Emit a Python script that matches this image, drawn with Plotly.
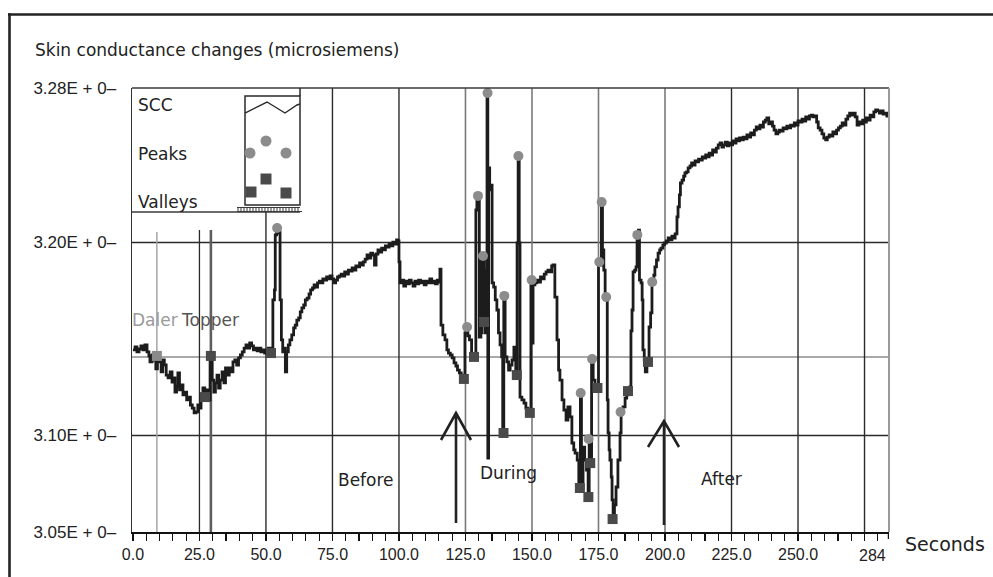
import plotly.graph_objects as go

# ---------------- data ----------------
time_s = [
    0, 0.8, 1.5, 2.3, 3.0, 3.8, 4.5, 5.3, 6.0, 6.4,
    7.2, 8.0, 8.6, 9.2, 10.0, 10.6, 11.2, 11.8, 12.5, 13.2,
    14.0, 14.7, 15.4, 15.8, 16.4, 16.9, 17.5, 18.2, 18.8, 19.5,
    20.2, 20.9, 21.6, 22.3, 23.0, 23.7, 24.4, 25.0, 25.6, 26.3,
    27.0, 27.7, 28.4, 29.0, 29.4, 29.8, 30.4, 31.0, 31.6, 32.2,
    32.8, 33.5, 34.2, 34.8, 35.5, 36.2, 36.9, 37.6, 38.3, 39.0,
    39.7, 40.4, 41.1, 41.8, 42.5, 43.2, 43.9, 44.6, 45.3, 46.0,
    46.7, 47.4, 48.1, 48.8, 49.5, 50.2, 50.9, 51.6, 52.3, 52.6,
    53.2, 53.5, 54.0, 54.5, 55.0, 55.3, 55.8, 56.3, 56.8, 57.3,
    57.8, 58.4, 59.0, 59.7, 60.4, 61.0, 61.6, 62.3, 62.9, 63.5,
    64.2, 64.8, 65.5, 66.2, 66.8, 67.5, 68.1, 68.8, 69.4, 70.1,
    70.8, 71.4, 72.1, 72.8, 73.4, 74.1, 74.8, 75.5, 76.2, 76.9,
    77.6, 78.3, 79.0, 79.6, 80.3, 81.0, 81.7, 82.4, 83.1, 83.8,
    84.5, 85.2, 85.9, 86.6, 87.3, 88.0, 88.7, 89.4, 90.1, 90.8,
    91.4, 92.1, 92.8, 93.5, 94.2, 94.9, 95.6, 96.3, 97.0, 97.7,
    98.4, 99.1, 99.6, 100.0, 100.4, 101.1, 101.8, 102.5, 103.2, 103.9,
    104.6, 105.3, 106.0, 106.7, 107.4, 108.1, 108.8, 109.5, 110.2, 110.9,
    111.6, 112.3, 113.0, 113.7, 114.4, 115.0, 115.4, 115.8, 116.5, 117.3,
    118.0, 118.6, 119.3, 120.0, 120.7, 121.4, 122.0, 122.7, 123.4, 124.0,
    124.4, 124.8, 125.3, 125.9, 126.5, 127.3, 128.2, 128.9, 129.3, 129.9,
    130.2, 130.8, 131.2, 131.6, 132.0, 132.4, 132.8, 133.1, 133.4, 133.7,
    134.1, 134.6, 135.0, 135.6, 136.2, 136.8, 137.4, 138.0, 138.6, 139.0,
    139.4, 139.9, 140.6, 141.2, 141.8, 142.5, 143.2, 143.9, 144.4, 144.8,
    145.2, 145.5, 146.2, 147.0, 147.7, 148.4, 149.0, 149.6, 150.0, 150.4,
    151.1, 151.8, 152.5, 153.2, 153.9, 154.6, 155.3, 156.0, 156.7, 157.4,
    157.9, 158.6, 159.4, 160.0, 160.5, 161.3, 162.0, 162.8, 163.5, 164.3,
    165.0, 165.7, 166.2, 167.0, 167.6, 168.2, 168.6, 169.2, 169.8, 170.5,
    171.1, 171.5, 171.8, 172.4, 173.0, 173.7, 174.4, 175.0, 175.6, 176.1,
    176.5, 177.0, 177.5, 177.8, 178.3, 178.6, 179.0, 179.3, 179.8, 180.1,
    180.5, 181.0, 181.6, 182.3, 183.1, 183.5, 184.2, 185.0, 185.6, 186.1,
    186.8, 187.2, 187.6, 188.0, 188.6, 189.1, 189.5, 190.0, 190.4, 191.0,
    191.4, 191.7, 192.2, 192.6, 193.2, 193.6, 194.0, 194.6, 195.1, 195.8,
    196.2, 196.8, 197.4, 198.0, 198.5, 199.2, 199.8, 200.5, 201.2, 201.9,
    202.6, 203.3, 203.8, 204.5, 204.9, 205.4, 205.8, 206.4, 207.0, 207.5,
    208.1, 208.7, 209.4, 210.0, 210.6, 211.3, 212.0, 212.6, 213.3, 214.0,
    214.6, 215.3, 216.0, 216.6, 217.3, 217.9, 218.6, 219.3, 220.0, 220.7,
    221.4, 222.0, 222.7, 223.4, 224.0, 224.7, 225.4, 226.0, 226.7, 227.4,
    228.0, 228.7, 229.4, 230.1, 230.8, 231.5, 232.2, 232.9, 233.6, 234.3,
    235.0, 235.7, 236.4, 237.0, 237.7, 238.3, 239.0, 239.7, 240.4, 241.0,
    241.7, 242.4, 243.0, 243.7, 244.4, 245.1, 245.8, 246.5, 247.2, 247.9,
    248.6, 249.3, 250.0, 250.8, 251.5, 252.2, 252.9, 253.6, 254.3, 255.0,
    255.6, 256.3, 257.0, 257.6, 258.3, 259.0, 259.7, 260.4, 261.0, 261.7,
    262.4, 263.1, 263.8, 264.5, 265.2, 265.9, 266.6, 267.3, 268.0, 268.7,
    269.4, 270.1, 270.8, 271.5, 272.2, 272.9, 273.6, 274.3, 275.0, 275.7,
    276.4, 277.1, 277.8, 278.5, 279.2, 279.9, 280.6, 281.3, 282.0, 282.7,
    283.4, 284.0,
]

scc_us = [
    3.1443, 3.1459, 3.1433, 3.1448, 3.1464, 3.1443, 3.1469, 3.1433, 3.1412, 3.1381,
    3.1417, 3.1391, 3.1345, 3.1407, 3.1381, 3.1329, 3.1391, 3.1365, 3.1313, 3.1298,
    3.1329, 3.1277, 3.1298, 3.1225, 3.1256, 3.1324, 3.1236, 3.1262, 3.1210, 3.1225,
    3.1184, 3.1199, 3.1158, 3.1142, 3.1117, 3.1122, 3.1158, 3.1142, 3.1210, 3.1246,
    3.1194, 3.1236, 3.1184, 3.1391, 3.1412, 3.1287, 3.1225, 3.1272, 3.1313, 3.1246,
    3.1287, 3.1329, 3.1272, 3.1350, 3.1313, 3.1350, 3.1329, 3.1381, 3.1391, 3.1365,
    3.1402, 3.1417, 3.1433, 3.1453, 3.1469, 3.1453, 3.1479, 3.1464, 3.1443, 3.1453,
    3.1438, 3.1453, 3.1433, 3.1443, 3.1427, 3.1443, 3.1453, 3.1433, 3.1443, 3.1702,
    3.1754, 3.2039, 3.2049, 3.2075, 3.2054, 3.1702, 3.1495, 3.1433, 3.1453, 3.1329,
    3.1433, 3.1469, 3.1495, 3.1521, 3.1557, 3.1572, 3.1598, 3.1609, 3.1640, 3.1661,
    3.1676, 3.1702, 3.1712, 3.1733, 3.1754, 3.1764, 3.1780, 3.1769, 3.1790, 3.1800,
    3.1790, 3.1811, 3.1805, 3.1821, 3.1811, 3.1826, 3.1811, 3.1790, 3.1805, 3.1821,
    3.1826, 3.1836, 3.1826, 3.1847, 3.1836, 3.1857, 3.1852, 3.1868, 3.1857, 3.1878,
    3.1873, 3.1894, 3.1883, 3.1899, 3.1914, 3.1935, 3.1919, 3.1945, 3.1935, 3.1883,
    3.1940, 3.1961, 3.1950, 3.1971, 3.1961, 3.1982, 3.1976, 3.1992, 3.1982, 3.2002,
    3.1992, 3.2013, 3.2008, 3.1899, 3.1790, 3.1805, 3.1774, 3.1800, 3.1785, 3.1805,
    3.1790, 3.1774, 3.1800, 3.1785, 3.1805, 3.1790, 3.1800, 3.1780, 3.1800, 3.1790,
    3.1811, 3.1790, 3.1800, 3.1785, 3.1805, 3.1795, 3.1862, 3.1572, 3.1521, 3.1495,
    3.1443, 3.1427, 3.1417, 3.1402, 3.1376, 3.1360, 3.1339, 3.1324, 3.1313, 3.1298,
    3.1293, 3.1531, 3.1562, 3.1516, 3.1495, 3.1407, 3.1407, 3.2168, 3.2220, 3.2241,
    3.1510, 3.1531, 3.1909, 3.1930, 3.1588, 3.1531, 3.1857, 3.2805, 3.0883, 3.2386,
    3.2272, 3.2297, 3.1790, 3.1769, 3.1702, 3.1650, 3.1531, 3.1469, 3.1407, 3.1013,
    3.1723, 3.1407, 3.1381, 3.1339, 3.1365, 3.1391, 3.1458, 3.1313, 3.1997, 3.2448,
    3.1997, 3.1199, 3.1184, 3.1168, 3.1142, 3.1132, 3.1117, 3.1805, 3.1479, 3.1780,
    3.1790, 3.1805, 3.1795, 3.1821, 3.1811, 3.1836, 3.1847, 3.1857, 3.1847, 3.1878,
    3.1883, 3.1717, 3.1495, 3.1339, 3.1287, 3.1184, 3.1132, 3.1080, 3.1148, 3.1096,
    3.0961, 3.0925, 3.0909, 3.0873, 3.0728, 3.1225, 3.0728, 3.0940, 3.0873, 3.0821,
    3.0681, 3.0982, 3.0857, 3.1396, 3.1287, 3.1246, 3.1246, 3.1899, 3.1883, 3.2209,
    3.1961, 3.1857, 3.1702, 3.1717, 3.1184, 3.1013, 3.0925, 3.0873, 3.0785, 3.0666,
    3.0567, 3.0640, 3.0733, 3.0873, 3.1013, 3.1122, 3.1148, 3.1194, 3.1210, 3.1230,
    3.1251, 3.1542, 3.1650, 3.1847, 3.1857, 3.1873, 3.2039, 3.2064, 3.1805, 3.1790,
    3.1702, 3.1443, 3.1391, 3.1329, 3.1381, 3.1381, 3.1562, 3.1635, 3.1795, 3.1831,
    3.1873, 3.1909, 3.1945, 3.1961, 3.1971, 3.1987, 3.1997, 3.2008, 3.2023, 3.2013,
    3.2033, 3.2023, 3.2044, 3.2132, 3.2184, 3.2246, 3.2308, 3.2323, 3.2344, 3.2360,
    3.2365, 3.2386, 3.2396, 3.2412, 3.2401, 3.2422, 3.2417, 3.2432, 3.2427, 3.2443,
    3.2437, 3.2453, 3.2443, 3.2463, 3.2453, 3.2479, 3.2468, 3.2489, 3.2505, 3.2515,
    3.2494, 3.2505, 3.2520, 3.2500, 3.2515, 3.2505, 3.2526, 3.2515, 3.2536, 3.2526,
    3.2541, 3.2531, 3.2546, 3.2536, 3.2557, 3.2546, 3.2567, 3.2557, 3.2582, 3.2598,
    3.2588, 3.2608, 3.2598, 3.2624, 3.2634, 3.2645, 3.2614, 3.2624, 3.2603, 3.2582,
    3.2562, 3.2572, 3.2582, 3.2577, 3.2593, 3.2588, 3.2603, 3.2593, 3.2608, 3.2603,
    3.2619, 3.2608, 3.2629, 3.2624, 3.2639, 3.2629, 3.2650, 3.2639, 3.2655, 3.2660,
    3.2650, 3.2655, 3.2624, 3.2593, 3.2582, 3.2562, 3.2541, 3.2531, 3.2546, 3.2557,
    3.2551, 3.2572, 3.2562, 3.2582, 3.2593, 3.2603, 3.2619, 3.2608, 3.2639, 3.2655,
    3.2670, 3.2660, 3.2670, 3.2650, 3.2608, 3.2624, 3.2614, 3.2634, 3.2624, 3.2645,
    3.2634, 3.2660, 3.2650, 3.2676, 3.2686, 3.2681, 3.2670, 3.2681, 3.2665, 3.2670,
    3.2655, 3.2650,
]
assert len(time_s) == len(scc_us)

peak_t = [54.2, 125.6, 129.7, 131.6, 133.3, 139.6, 144.9, 149.9, 168.3, 171.3,
          172.6, 175.3, 176.2, 177.9, 183.3, 189.6, 195.2]
peak_v = [3.2075, 3.1562, 3.2241, 3.1930, 3.2774, 3.1723, 3.2448, 3.1805, 3.1220, 3.0982,
          3.1396, 3.1899, 3.2209, 3.1717, 3.1122, 3.2039, 3.1795]

valley_t = [27.1, 29.3, 51.9, 124.4, 128.2, 132.0, 139.3, 144.3, 149.2, 168.0,
            171.2, 171.9, 174.6, 180.3, 186.1, 193.6]
valley_v = [3.1199, 3.1412, 3.1427, 3.1293, 3.1407, 3.1588, 3.1013, 3.1313, 3.1117, 3.0728,
            3.0681, 3.0857, 3.1246, 3.0567, 3.1230, 3.1381]

daler_mark_t = [9.0]
daler_mark_v = [3.1412]

event_names = ["Daler", "Topper"]
event_t = [9.0, 29.3]

phase_names = ["Before", "During", "After"]
phase_t = [87.6, 141.0, 221.1]
phase_v = [3.0769, 3.0806, 3.0775]

x_tickvals = [0, 25, 50, 75, 100, 125, 150, 175, 200, 225, 250]
x_ticktext = ["0.0", "25.0", "50.0", "75.0", "100.0", "125.0", "150.0",
              "175.0", "200.0", "225.0", "250.0"]
x_end = 284
y_tickvals = [3.05, 3.10, 3.20, 3.28]
y_ticktext = ["3.05E + 0\u2013", "3.10E + 0\u2013", "3.20E + 0\u2013", "3.28E + 0\u2013"]

grid_dark_t = [50, 75, 100, 225, 250, 275]
grid_gray_t = [125, 150, 175, 200]
grid_dark_v = [3.20, 3.10]
baseline_v = 3.1407

# ---------------- layout helpers (pixel -> paper) ----------------
PL, PR, PT, PB = 132, 889, 88, 532


def hx(x):
    return (x - PL) / (PR - PL)


def vy(y):
    return (PB - y) / (PB - PT)


DARK = "#2a2a2a"
GRAY = "#7a7a7a"
TXT = "DejaVu Sans"
NUM = "Liberation Sans"

fig = go.Figure()

fig.add_trace(go.Scatter(
    x=time_s, y=scc_us, mode="lines",
    line=dict(color="#1c1c1c", width=2.8, shape="hv"),
    hoverinfo="skip", showlegend=False))

fig.add_trace(go.Scatter(
    x=valley_t, y=valley_v, mode="markers",
    marker=dict(symbol="square", size=10, color="#4a4a4a"),
    hoverinfo="skip", showlegend=False))

fig.add_trace(go.Scatter(
    x=daler_mark_t, y=daler_mark_v, mode="markers",
    marker=dict(symbol="square", size=10, color="#8a8a8a"),
    hoverinfo="skip", showlegend=False))

fig.add_trace(go.Scatter(
    x=peak_t, y=peak_v, mode="markers",
    marker=dict(symbol="circle", size=10, color="#8c8c8c"),
    hoverinfo="skip", showlegend=False))

shapes = []

# vertical grid lines
for t in grid_dark_t:
    top = 3.2158 if t == 50 else 3.28
    shapes.append(dict(type="line", xref="x", yref="y", x0=t, x1=t, y0=3.05, y1=top,
                       line=dict(color=DARK, width=1.4), layer="below"))
for t in grid_gray_t:
    shapes.append(dict(type="line", xref="x", yref="y", x0=t, x1=t, y0=3.05, y1=3.28,
                       line=dict(color=GRAY, width=1.6), layer="below"))
# 25 s gridline (starts below legend)
shapes.append(dict(type="line", xref="x", yref="y", x0=25, x1=25, y0=3.05, y1=3.2064,
                   line=dict(color=DARK, width=1.3), layer="below"))
# event lines
shapes.append(dict(type="line", xref="x", yref="y", x0=event_t[0], x1=event_t[0], y0=3.05, y1=3.2054,
                   line=dict(color="#a0a0a0", width=1.4), layer="below"))
shapes.append(dict(type="line", xref="x", yref="y", x0=event_t[1], x1=event_t[1], y0=3.05, y1=3.2064,
                   line=dict(color="#5e5e5e", width=2.6), layer="below"))

# horizontal grid lines
for v in grid_dark_v:
    shapes.append(dict(type="line", xref="paper", yref="y", x0=0, x1=1, y0=v, y1=v,
                       line=dict(color=DARK, width=1.4), layer="below"))
shapes.append(dict(type="line", xref="paper", yref="y", x0=0, x1=1, y0=baseline_v, y1=baseline_v,
                   line=dict(color="#8c8c8c", width=1.5), layer="below"))

# white gaps behind phase labels
for (x0, x1, y0, y1) in [(329, 401, 467, 493), (478, 540, 463, 483), (695, 748, 461, 491)]:
    shapes.append(dict(type="rect", xref="paper", yref="paper", x0=hx(x0), x1=hx(x1),
                       y0=vy(y1), y1=vy(y0), fillcolor="white", line=dict(width=0), layer="below"))

# plot frame: top and right
shapes.append(dict(type="line", xref="paper", yref="paper", x0=0, x1=1, y0=1, y1=1,
                   line=dict(color="#3a3a3a", width=1.6)))
shapes.append(dict(type="line", xref="paper", yref="paper", x0=1, x1=1, y0=0, y1=1,
                   line=dict(color="#9a9a9a", width=2)))

# legend box
shapes.append(dict(type="line", xref="paper", yref="paper", x0=0, x1=hx(300), y0=vy(212), y1=vy(212),
                   line=dict(color="#3a3a3a", width=1.5)))
shapes.append(dict(type="rect", xref="paper", yref="paper", x0=hx(245), x1=hx(300),
                   y0=vy(205), y1=vy(96), line=dict(color="#2a2a2a", width=1.5),
                   fillcolor="white", layer="below"))
shapes.append(dict(type="line", xref="paper", yref="paper", x0=hx(300), x1=hx(300), y0=vy(96), y1=1,
                   line=dict(color="#2a2a2a", width=1.5)))
zig = [(245, 113), (267, 102), (285, 113), (297, 105), (300, 104)]
path = "M " + " L ".join(f"{hx(a):.5f},{vy(b):.5f}" for a, b in zig)
shapes.append(dict(type="path", xref="paper", yref="paper", path=path,
                   line=dict(color="#2a2a2a", width=1.4)))
for (cx, cy) in [(250, 153), (266, 141), (286, 153)]:
    shapes.append(dict(type="circle", xref="paper", yref="paper",
                       x0=hx(cx - 5.5), x1=hx(cx + 5.5), y0=vy(cy + 5.5), y1=vy(cy - 5.5),
                       fillcolor="#8c8c8c", line=dict(width=0)))
for (cx, cy) in [(251, 192), (266, 179), (286, 193)]:
    shapes.append(dict(type="rect", xref="paper", yref="paper",
                       x0=hx(cx - 5.5), x1=hx(cx + 5.5), y0=vy(cy + 5.5), y1=vy(cy - 5.5),
                       fillcolor="#4a4a4a", line=dict(width=0)))
# small ruler under the legend key box
rp = f"M {hx(237):.5f},{vy(211.5):.5f} L {hx(302):.5f},{vy(211.5):.5f} "
rp += f"M {hx(237):.5f},{vy(207.5):.5f} L {hx(300):.5f},{vy(207.5):.5f} "
xx = 238.0
while xx < 300:
    rp += f"M {hx(xx):.5f},{vy(207.5):.5f} L {hx(xx):.5f},{vy(211.5):.5f} "
    xx += 3.0
shapes.append(dict(type="path", xref="paper", yref="paper", path=rp,
                   line=dict(color="#3a3a3a", width=1)))

# arrows (open chevron heads)
for (ax, ytop, ybot, wl, wr, wy) in [(456, 413, 523, 441, 471, 440),
                                      (664, 421, 525, 648, 679, 447)]:
    p = (f"M {hx(ax):.5f},{vy(ybot):.5f} L {hx(ax):.5f},{vy(ytop):.5f} "
         f"M {hx(wl):.5f},{vy(wy):.5f} L {hx(ax):.5f},{vy(ytop):.5f} L {hx(wr):.5f},{vy(wy):.5f}")
    shapes.append(dict(type="path", xref="paper", yref="paper", path=p,
                       line=dict(color="#222222", width=2.6)))

# end tick at 284
shapes.append(dict(type="line", xref="x", yref="paper", x0=x_end, x1=x_end, y0=0, y1=-7 / 444,
                   line=dict(color="#111111", width=1.4)))

# outer figure border (top and left)
shapes.append(dict(type="line", xref="paper", yref="paper", x0=hx(8), x1=hx(1000),
                   y0=vy(14.5), y1=vy(14.5), line=dict(color="#222222", width=2.6)))
shapes.append(dict(type="line", xref="paper", yref="paper", x0=hx(9.5), x1=hx(9.5),
                   y0=vy(13.2), y1=vy(600), line=dict(color="#222222", width=2.6)))

annotations = [
    dict(text="Skin conductance changes (microsiemens)", xref="paper", yref="paper",
         x=hx(33), y=vy(50), xanchor="left", yanchor="middle", showarrow=False,
         font=dict(family=TXT, size=17, color="#222222")),
    dict(text="Seconds", xref="paper", yref="paper", x=hx(903), y=vy(544),
         xanchor="left", yanchor="middle", showarrow=False,
         font=dict(family=TXT, size=19, color="#222222")),
    dict(text=str(x_end), xref="x", yref="paper", x=x_end, y=vy(555),
         xanchor="right", yanchor="middle", showarrow=False,
         font=dict(family=NUM, size=16, color="#222222")),
    dict(text="SCC", xref="paper", yref="paper", x=hx(136), y=vy(105),
         xanchor="left", yanchor="middle", showarrow=False,
         font=dict(family=TXT, size=17, color="#222222")),
    dict(text="Peaks", xref="paper", yref="paper", x=hx(136), y=vy(154),
         xanchor="left", yanchor="middle", showarrow=False,
         font=dict(family=TXT, size=17, color="#222222")),
    dict(text="Valleys", xref="paper", yref="paper", x=hx(136), y=vy(202),
         xanchor="left", yanchor="middle", showarrow=False,
         font=dict(family=TXT, size=17, color="#222222")),
    dict(text=event_names[0], xref="paper", yref="paper", x=hx(130), y=vy(320),
         xanchor="left", yanchor="middle", showarrow=False,
         font=dict(family=TXT, size=17, color="#9a9a9a")),
    dict(text=event_names[1], xref="paper", yref="paper", x=hx(179), y=vy(320),
         xanchor="left", yanchor="middle", showarrow=False,
         font=dict(family=TXT, size=17, color="#555555")),
]
for name, t, v in zip(phase_names, phase_t, phase_v):
    annotations.append(dict(text=name, xref="x", yref="y", x=t, y=v,
                            xanchor="center", yanchor="middle", showarrow=False,
                            font=dict(family=TXT, size=17, color="#222222")))

fig.update_layout(
    width=993, height=577,
    margin=dict(l=PL, r=993 - PR, t=PT, b=577 - PB, pad=0),
    paper_bgcolor="white", plot_bgcolor="white",
    showlegend=False,
    shapes=shapes,
    annotations=annotations,
    xaxis=dict(
        range=[-0.35, 284.2], showgrid=False, zeroline=False,
        tickmode="array", tickvals=x_tickvals, ticktext=x_ticktext,
        ticks="outside", ticklen=7, tickwidth=1.4, tickcolor="#111111",
        showline=True, linecolor="#111111", linewidth=2,
        tickfont=dict(family=NUM, size=16, color="#222222"),
        minor=dict(dtick=5, tick0=0, ticks="outside", ticklen=7, tickwidth=1.2,
                   tickcolor="#111111", showgrid=False),
    ),
    yaxis=dict(
        range=[3.05, 3.28], showgrid=False, zeroline=False,
        tickmode="array", tickvals=y_tickvals, ticktext=y_ticktext,
        ticks="outside", ticklen=11, tickcolor="rgba(0,0,0,0)",
        showline=True, linecolor="#333333", linewidth=1.5,
        tickfont=dict(family=NUM, size=17, color="#222222"),
    ),
)

fig.write_html(
    "out.html",
    config={"displayModeBar": False, "staticPlot": True},
    post_script="document.body.style.margin='0px';document.body.style.overflow='hidden';",
)
